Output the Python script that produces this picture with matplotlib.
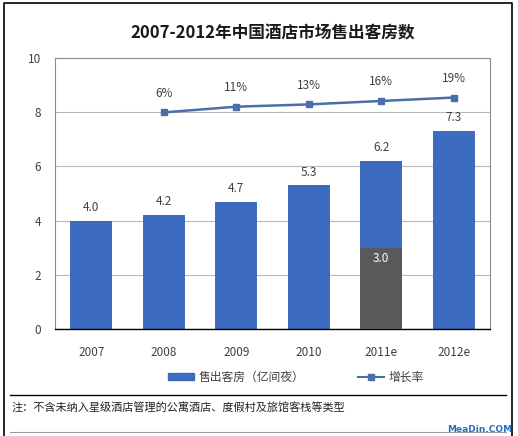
import matplotlib
matplotlib.use("Agg")
import matplotlib.pyplot as plt
from matplotlib.lines import Line2D
from matplotlib.patches import Patch

plt.rcParams["font.family"] = ["Noto Sans CJK SC", "DejaVu Sans"]

# data
years = ["2007", "2008", "2009", "2010", "2011e", "2012e"]
rooms = [4.0, 4.2, 4.7, 5.3, 6.2, 7.3]
part_2011 = 3.0
growth_years = ["2008", "2009", "2010", "2011e", "2012e"]
growth = [6, 11, 13, 16, 19]

title = "2007-2012年中国酒店市场售出客房数"
note = "注：不含未纳入星级酒店管理的公寓酒店、度假村及旅馆客栈等类型"

blue = "#3D6BBF"
dark = "#595959"
line_c = "#4A6EA8"
txt = "#404040"

W, H = 518, 436
fig = plt.figure(figsize=(W / 100, H / 100), dpi=100)

def fx(px):
    return px / W

def fy(py):
    return 1 - py / H

ax = fig.add_axes([fx(55), fy(329), fx(490) - fx(55), fy(58) - fy(329)])
x = list(range(len(years)))
ax.bar(x, rooms, width=0.58, color=blue, zorder=2)
i11 = years.index("2011e")
ax.bar(i11, part_2011, width=0.58, color=dark, zorder=3)

for xi, v in zip(x, rooms):
    ax.text(xi, v + 0.25, f"{v:.1f}", ha="center", va="bottom", fontsize=8.5, color=txt)
ax.text(i11, part_2011 - 0.15, f"{part_2011:.1f}", ha="center", va="top",
        fontsize=8.5, color="white", zorder=4)

ax.set_xlim(-0.5, len(years) - 0.5)
ax.set_ylim(0, 10)
ax.set_yticks([0, 2, 4, 6, 8, 10])
ax.set_xticks(x)
ax.set_xticklabels(years)
ax.tick_params(axis="both", length=0, labelsize=8.5, colors=txt)
ax.tick_params(axis="x", pad=12)
ax.tick_params(axis="y", pad=10)
ax.grid(axis="y", color="#b8b8b8", linewidth=0.8, zorder=0)
for s in ["top", "right", "left"]:
    ax.spines[s].set_color("#8c8c8c")
    ax.spines[s].set_linewidth(0.8)
ax.spines["bottom"].set_color("black")
ax.spines["bottom"].set_linewidth(1.0)

# growth rate on a hidden secondary scale
ax2 = ax.twinx()
gx = [years.index(y) for y in growth_years]
ax2.plot(gx, growth, color=line_c, linewidth=1.8, marker="s", markersize=5,
         markerfacecolor=line_c, markeredgecolor=line_c)
ax2.set_ylim(-183, 53.5)
ax2.set_yticks([])
for s in ax2.spines.values():
    s.set_visible(False)
for xi, g in zip(gx, growth):
    ax2.annotate(f"{g}%", (xi, g), xytext=(0, 9), textcoords="offset points",
                 ha="center", va="bottom", fontsize=8.5, color=txt)

fig.text(fx(273), fy(33), title, ha="center", va="center", fontsize=12,
         fontweight="bold", color="#1a1a1a")

handles = [Patch(color=blue, label="售出客房（亿间夜）"),
           Line2D([0], [0], color=line_c, marker="s", markersize=4, linewidth=1.5,
                  label="增长率")]
fig.legend(handles=handles, loc="center", bbox_to_anchor=(fx(296), fy(377)), ncol=2,
           frameon=False, fontsize=8.5, columnspacing=4.5, handlelength=2.2,
           handleheight=0.5, handletextpad=0.4, labelcolor=txt)

# separators, note, frame
fig.add_artist(Line2D([fx(10), fx(506)], [fy(395), fy(395)], color="black", linewidth=1.0))
fig.add_artist(Line2D([fx(10), fx(506)], [fy(432), fy(432)], color="#9a9a9a", linewidth=0.8))
fig.text(fx(12), fy(408), note, ha="left", va="center", fontsize=8, color="#222222")
fig.add_artist(Line2D([fx(4), fx(4), fx(512), fx(512)], [0, fy(3), fy(3), 0],
                      color="black", linewidth=1.2))
fig.text(fx(512), fy(429), "MeaDin.COM", ha="right", va="center", fontsize=6.5,
         fontweight="bold", color="#2a6fc0", family=["DejaVu Sans"])

fig.savefig("out.png", dpi=100)
